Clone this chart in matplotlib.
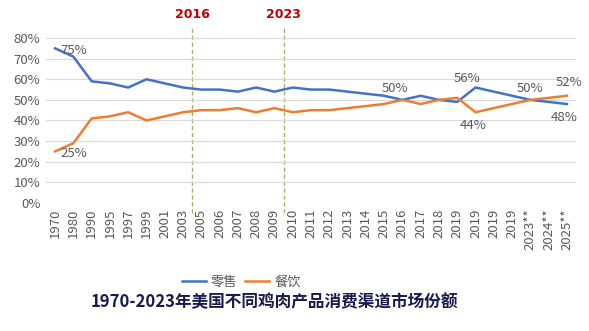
import matplotlib.pyplot as plt
from matplotlib.ticker import PercentFormatter

plt.rcParams['font.family'] = ['Noto Sans CJK SC', 'DejaVu Sans']

years = ['1970', '1980', '1990', '1995', '1997', '1999', '2001', '2003', '2005',
         '2006', '2007', '2008', '2009', '2010', '2011', '2012', '2013', '2014',
         '2015', '2016', '2017', '2018', '2019', '2019', '2019', '2019',
         '2023**', '2024**', '2025**']
retail = [75, 71, 59, 58, 56, 60, 58, 56, 55, 55, 54, 56, 54, 56, 55, 55, 54, 53,
          52, 50, 52, 50, 49, 56, 54, 52, 50, 49, 48]
foodservice = [25, 29, 41, 42, 44, 40, 42, 44, 45, 45, 46, 44, 46, 44, 45, 45, 46, 47,
               48, 50, 48, 50, 51, 44, 46, 48, 50, 51, 52]
marker_years = ['2016', '2023']
marker_pos = [7.5, 12.5]

blue = '#4472C4'
orange = '#ED7D31'
grey = '#595959'

fig = plt.figure(figsize=(5.89, 3.31), dpi=100)
ax = fig.add_axes([0.078, 0.387, 0.9, 0.498])

x = list(range(len(years)))
ax.plot(x, [v / 100 for v in retail], color=blue, lw=1.8, label='零售')
ax.plot(x, [v / 100 for v in foodservice], color=orange, lw=1.8, label='餐饮')

ax.set_xlim(-0.5, len(years) - 0.5)
ax.set_ylim(0, 0.8)
ax.set_yticks([i / 10 for i in range(9)])
ax.yaxis.set_major_formatter(PercentFormatter(1.0, decimals=0))
ax.set_xticks(x)
ax.set_xticklabels(years, rotation=90)
ax.tick_params(axis='both', length=0, labelsize=9.5, labelcolor=grey, pad=4)
ax.grid(axis='y', color='#D9D9D9', lw=0.8)
for s in ax.spines.values():
    s.set_visible(False)

# dashed markers for the two reference years
for pos, lab in zip(marker_pos, marker_years):
    ax.plot([pos, pos], [-0.05, 0.86], ls=(0, (3, 2)), color='#A8B060', lw=1,
            clip_on=False, zorder=1)
    ax.text(pos, 0.915, lab, color='#C00000', fontsize=9, fontweight='bold',
            ha='center', va='center', family=['DejaVu Sans'])

def label(i, vals, dx, dy, ha='center'):
    ax.text(i + dx, vals[i] / 100 + dy, f'{vals[i]}%', fontsize=9.5, color=grey,
            ha=ha, va='center')

label(0, retail, 0.3, -0.01, ha='left')
label(0, foodservice, 0.3, -0.01, ha='left')
label(19, retail, -0.4, 0.055)
label(23, retail, -0.45, 0.045)
label(23, foodservice, -0.15, -0.065)
label(26, retail, 0.0, 0.055)
label(28, foodservice, 0.1, 0.065)
label(28, retail, -0.15, -0.065)

fig.legend(loc='center', bbox_to_anchor=(0.41, 0.148), ncol=2, frameon=False,
           fontsize=9.5, labelcolor=grey, handlelength=1.8, columnspacing=0.6,
           handletextpad=0.4)

fig.text(0.465, 0.087, '1970-2023年美国不同鸡肉产品消费渠道市场份额', ha='center',
         va='center', fontsize=12, fontweight='bold', color='#1A1A4E')

fig.savefig('out.png', dpi=100)
